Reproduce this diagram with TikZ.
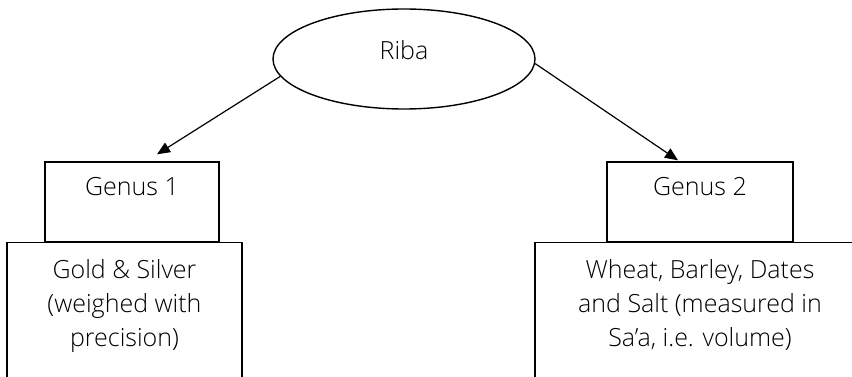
\documentclass[tikz,border=0pt]{standalone}
\usepackage{fontspec}
\setmainfont{Open Sans Light}
\usetikzlibrary{shapes.geometric,positioning,arrows.meta}
\begin{document}
\begin{tikzpicture}[x=1pt, y=-1pt,
    every node/.style={font=\fontsize{25}{34}\selectfont, inner sep=0pt},
    genus/.style={draw, line width=1.4pt, minimum width=174pt, minimum height=80pt, text height=18pt, text depth=30pt},
    detail/.style={draw, line width=1.4pt, minimum height=160pt, anchor=north},
    arr/.style={-{Triangle[length=13pt,width=11pt]}, line width=1.2pt}]

    \useasboundingbox (0,0) rectangle (852,377);
    \clip (0,0) rectangle (852,377);

    % Riba
    \node[draw, ellipse, line width=1.4pt, minimum width=262pt, minimum height=100pt, text height=18pt, text depth=16pt] (riba) at (404,59) {Riba};

    %% Left branch
    % Genus 1
    \node[genus] (genus1) at (132,202) {Genus 1};
    % Gold and silver
    \node[detail, minimum width=235pt] (gold) at (124.5,242) {};
    \node[below=17pt of gold.north, align=center] (goldtext) {Gold \& Silver\\(weighed with\\precision)};

    %% Right branch
    % Genus 2
    \node[genus, minimum width=186pt] (genus2) at (700,202) {Genus 2};
    % Wheat, barley, dates and salt
    \node[detail, minimum width=330pt] (wheat) at (700,242) {};
    \node[below=17pt of wheat.north, align=center] (wheattext) {Wheat, Barley, Dates\\and Salt (measured in\\Sa’a, i.e. volume)};

    % Arrows
    \coordinate[above right=7pt and 25pt of genus1.north] (tip1);
    \coordinate[above left=1pt and 22pt of genus2.north] (tip2);
    \draw[arr] (riba.188) -- (tip1);
    \draw[arr] (riba.-2) -- (tip2);

\end{tikzpicture}
\end{document}
